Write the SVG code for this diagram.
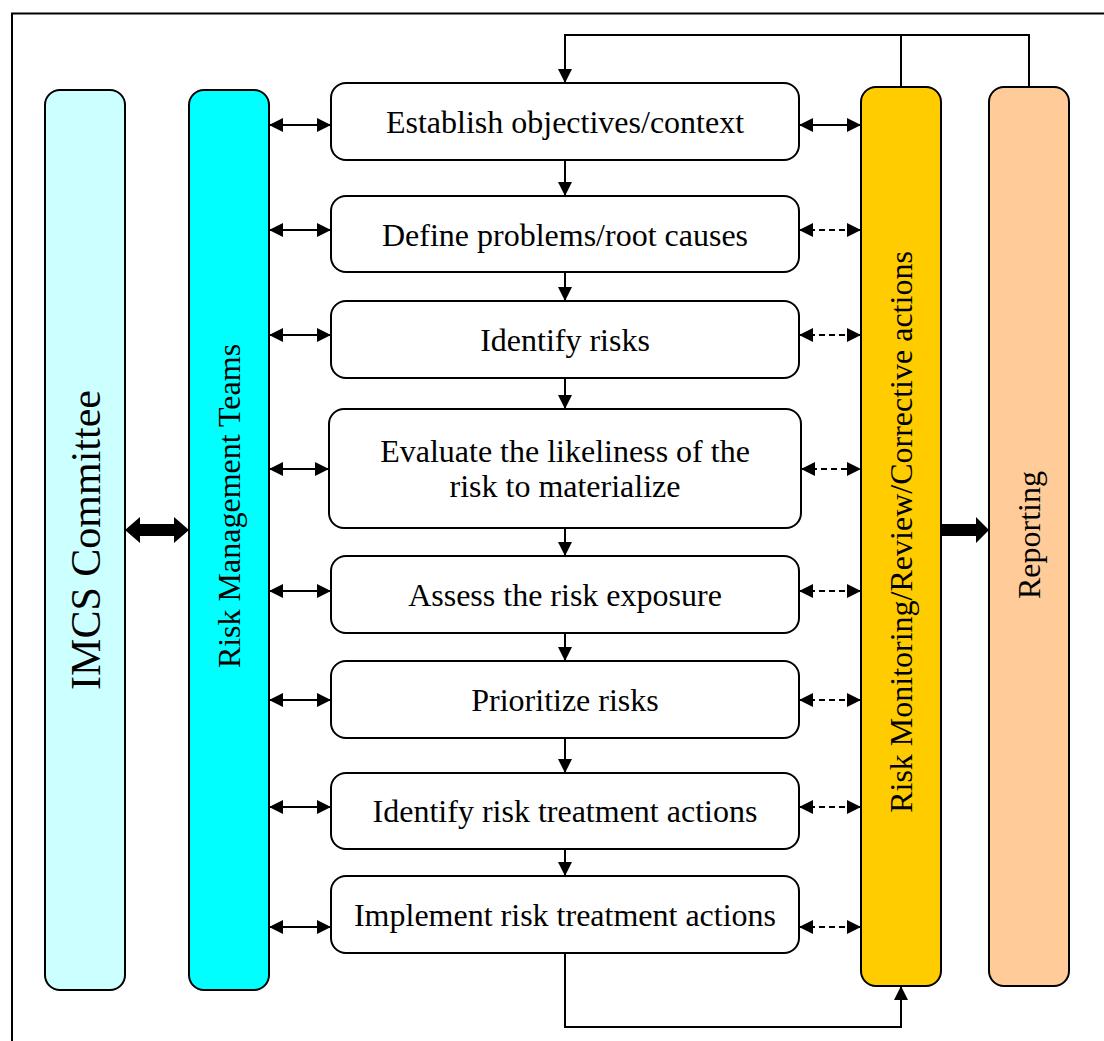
<svg xmlns="http://www.w3.org/2000/svg" width="1104" height="1041" viewBox="0 0 1104 1041">
<defs>
<style>
.box{stroke:#000;stroke-width:2}
.proc{fill:#fff;stroke:#000;stroke-width:2}
.t{font-family:"Liberation Serif","Times New Roman",serif;font-size:32px;fill:#000;text-anchor:middle}
.big{font-size:42px}
.ln{fill:none;stroke:#000;stroke-width:2}
.dash{stroke-dasharray:6 4}
</style>
<marker id="ah" viewBox="0 0 10 10" refX="10" refY="5" markerWidth="14" markerHeight="14" markerUnits="userSpaceOnUse" orient="auto-start-reverse">
<path d="M0,0 L10,5 L0,10 Z" fill="#000"/>
</marker>
</defs>
<rect width="1104" height="1041" fill="#fff"/>
<path d="M12,1041 V13.5 H1104" fill="none" stroke="#000" stroke-width="2"/>

<g id="imcs">
<rect class="box" x="45" y="90" width="80" height="900" rx="15" fill="#CCFFFF"/>
<text class="t big" transform="translate(85,540) rotate(-90)" y="15">IMCS Committee</text>
</g>
<g id="rmt">
<rect class="box" x="189" y="90" width="80" height="900" rx="15" fill="#00FFFF"/>
<text class="t" transform="translate(229,506) rotate(-90)" y="11">Risk Management Teams</text>
</g>
<g id="monitor">
<rect class="box" x="861" y="87" width="80" height="899" rx="15" fill="#FFCC00"/>
<text class="t" transform="translate(901,532) rotate(-90)" y="11">Risk Monitoring/Review/Corrective actions</text>
</g>
<g id="reporting">
<rect class="box" x="989" y="87" width="80" height="899" rx="15" fill="#FFCC99"/>
<text class="t" transform="translate(1029,535) rotate(-90)" y="11">Reporting</text>
</g>

<g id="p1"><rect class="proc" x="331" y="83" width="468" height="77" rx="15"/><text class="t" x="565" y="133">Establish objectives/context</text></g>
<g id="p2"><rect class="proc" x="331" y="196" width="468" height="76" rx="15"/><text class="t" x="565" y="246">Define problems/root causes</text></g>
<g id="p3"><rect class="proc" x="331" y="301" width="468" height="77" rx="15"/><text class="t" x="565" y="351">Identify risks</text></g>
<g id="p4"><rect class="proc" x="329" y="409" width="472" height="119" rx="15"/><text class="t" x="565" y="462">Evaluate the likeliness of the</text><text class="t" x="565" y="497">risk to materialize</text></g>
<g id="p5"><rect class="proc" x="331" y="556" width="468" height="77" rx="15"/><text class="t" x="565" y="606">Assess the risk exposure</text></g>
<g id="p6"><rect class="proc" x="331" y="661" width="468" height="77" rx="15"/><text class="t" x="565" y="711">Prioritize risks</text></g>
<g id="p7"><rect class="proc" x="331" y="773" width="468" height="76" rx="15"/><text class="t" x="565" y="822">Identify risk treatment actions</text></g>
<g id="p8"><rect class="proc" x="331" y="876" width="468" height="77" rx="15"/><text class="t" x="565" y="926">Implement risk treatment actions</text></g>

<g id="connectors">
<line class="ln" x1="565" y1="160" x2="565" y2="196" marker-end="url(#ah)"/>
<line class="ln" x1="565" y1="272" x2="565" y2="301" marker-end="url(#ah)"/>
<line class="ln" x1="565" y1="378" x2="565" y2="409" marker-end="url(#ah)"/>
<line class="ln" x1="565" y1="528" x2="565" y2="556" marker-end="url(#ah)"/>
<line class="ln" x1="565" y1="633" x2="565" y2="661" marker-end="url(#ah)"/>
<line class="ln" x1="565" y1="738" x2="565" y2="773" marker-end="url(#ah)"/>
<line class="ln" x1="565" y1="849" x2="565" y2="876" marker-end="url(#ah)"/>
<line class="ln" x1="269" y1="125" x2="331" y2="125" marker-start="url(#ah)" marker-end="url(#ah)"/>
<line class="ln" x1="269" y1="230" x2="331" y2="230" marker-start="url(#ah)" marker-end="url(#ah)"/>
<line class="ln" x1="269" y1="335" x2="331" y2="335" marker-start="url(#ah)" marker-end="url(#ah)"/>
<line class="ln" x1="269" y1="469" x2="329" y2="469" marker-start="url(#ah)" marker-end="url(#ah)"/>
<line class="ln" x1="269" y1="591" x2="331" y2="591" marker-start="url(#ah)" marker-end="url(#ah)"/>
<line class="ln" x1="269" y1="700" x2="331" y2="700" marker-start="url(#ah)" marker-end="url(#ah)"/>
<line class="ln" x1="269" y1="807" x2="331" y2="807" marker-start="url(#ah)" marker-end="url(#ah)"/>
<line class="ln" x1="269" y1="927" x2="331" y2="927" marker-start="url(#ah)" marker-end="url(#ah)"/>
<line class="ln" x1="799" y1="125" x2="861" y2="125" marker-start="url(#ah)" marker-end="url(#ah)"/>
<line class="ln dash" x1="799" y1="230" x2="861" y2="230" marker-start="url(#ah)" marker-end="url(#ah)"/>
<line class="ln dash" x1="799" y1="335" x2="861" y2="335" marker-start="url(#ah)" marker-end="url(#ah)"/>
<line class="ln dash" x1="801" y1="469" x2="861" y2="469" marker-start="url(#ah)" marker-end="url(#ah)"/>
<line class="ln dash" x1="799" y1="591" x2="861" y2="591" marker-start="url(#ah)" marker-end="url(#ah)"/>
<line class="ln dash" x1="799" y1="700" x2="861" y2="700" marker-start="url(#ah)" marker-end="url(#ah)"/>
<line class="ln dash" x1="799" y1="807" x2="861" y2="807" marker-start="url(#ah)" marker-end="url(#ah)"/>
<line class="ln dash" x1="799" y1="927" x2="861" y2="927" marker-start="url(#ah)" marker-end="url(#ah)"/>
<path class="ln" d="M901,87 V35 M1029,87 V35 H565 V83" marker-end="url(#ah)"/>
<path class="ln" d="M565,953 V1027 H901 V986" marker-end="url(#ah)"/>
<path d="M125,530 L140,517 V524 H174 V517 L189,530 L174,543 V536 H140 V543 Z" fill="#000"/>
<path d="M941,524 H976 V517 L989,530 L976,543 V536 H941 Z" fill="#000"/>
</g>
</svg>
